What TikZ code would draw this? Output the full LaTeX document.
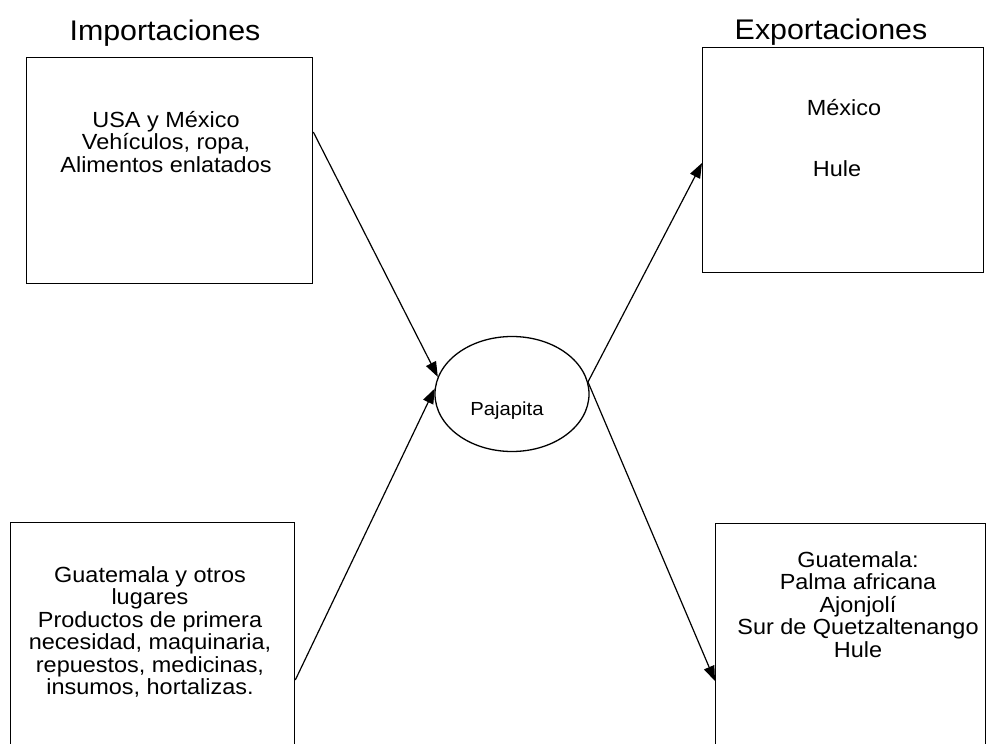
\documentclass[tikz,border=0pt]{standalone}
\usepackage{fontspec}
\setmainfont[FakeStretch=1.07]{Liberation Sans}
\usetikzlibrary{arrows.meta,shapes.geometric,calc}
\begin{document}
\begin{tikzpicture}[x=1bp,y=-1bp,
  box/.style={draw,line width=1.3bp,rectangle,inner sep=0,anchor=north west},
  txt/.style={align=center,inner sep=0,anchor=north,font=\fontsize{22}{22.6}\selectfont},
  ttl/.style={inner sep=0,anchor=north,font=\fontsize{28.5}{30}\selectfont},
  conn/.style={line width=1.2bp,-{Triangle[length=15bp,width=11bp]}}
]
\useasboundingbox (0,0) rectangle (986,744);
\clip (0,0) rectangle (986,744);
\fill[white] (0,0) rectangle (986,744);

% titles
\node[ttl] (timp) at (165,20) {Importaciones};
\node[ttl] (texp) at (831,19) {Exportaciones};

% boxes
\node[box,minimum width=286bp,minimum height=226bp] (tl) at (26,57) {};
\node[box,minimum width=281bp,minimum height=225bp] (tr) at (702,47) {};
\node[box,minimum width=284bp,minimum height=240bp] (bl) at (10,522) {};
\node[box,minimum width=270bp,minimum height=240bp] (br) at (715,523) {};

% texts in boxes
\node[txt] (tltxt) at (166,111) {USA y México\\Vehículos, ropa,\\Alimentos enlatados};
\node[txt] (trtxt1) at (844,99) {México};
\node[txt] (trtxt2) at (837,160) {Hule};
\node[txt] (bltxt) at (150,566) {Guatemala y otros\\lugares\\Productos de primera\\necesidad, maquinaria,\\repuestos, medicinas,\\insumos, hortalizas.};
\node[txt] (brtxt) at (858,551) {Guatemala:\\Palma africana\\Ajonjolí\\Sur de Quetzaltenango\\Hule};

% center ellipse
\node[draw,ellipse,line width=1.3bp,minimum width=154bp,minimum height=115bp,inner sep=0] (pj) at (512,394) {};
\node[inner sep=0,anchor=north,font=\fontsize{19}{20}\selectfont] (pjtxt) at (507,402) {Pajapita};

% connectors
\draw[conn] ($(tl.north east)+(0,75)$) -- (pj.167);
\draw[conn] ($(bl.north east)+(0,158)$) -- (pj.176);
\draw[conn] (pj.9) -- ($(tr.north west)+(0,116)$);
\draw[conn] (pj.9) -- ($(br.north west)+(0,158)$);
\end{tikzpicture}
\end{document}
